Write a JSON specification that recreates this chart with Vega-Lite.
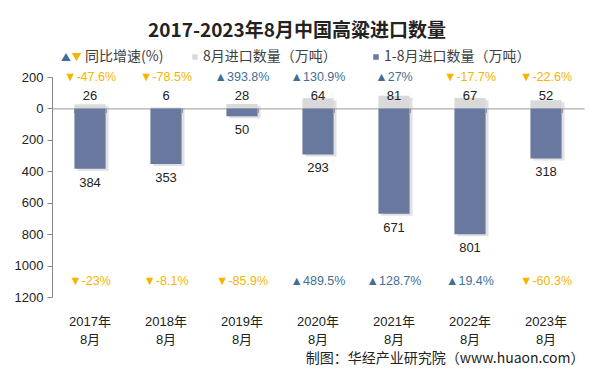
{
  "$schema": "https://vega.github.io/schema/vega-lite/v6.json",
  "width": 532,
  "height": 220,
  "autosize": {"type": "none"},
  "padding": {"left": 52, "top": 77, "right": 10, "bottom": 76},
  "background": "white",
  "config": {
    "view": {"stroke": null},
    "font": "Liberation Sans, Noto Sans CJK SC",
    "text": {"font": "Liberation Sans, Noto Sans CJK SC", "fontSize": 13},
    "legend": {"padding": 0}
  },
  "title": {
    "text": "2017-2023年8月中国高粱进口数量",
    "font": "Noto Sans CJK SC",
    "fontSize": 19,
    "fontWeight": "bold",
    "color": "#222222",
    "anchor": "middle",
    "frame": "group",
    "dx": -21,
    "offset": 9
  },
  "data": {
    "values": [
      {"year": "2017", "m": 26, "m_lab": "▼-47.6%", "m_dir": "down", "c": 384, "c_lab": "▼-23%", "c_dir": "down"},
      {"year": "2018", "m": 6, "m_lab": "▼-78.5%", "m_dir": "down", "c": 353, "c_lab": "▼-8.1%", "c_dir": "down"},
      {"year": "2019", "m": 28, "m_lab": "▲393.8%", "m_dir": "up", "c": 50, "c_lab": "▼-85.9%", "c_dir": "down"},
      {"year": "2020", "m": 64, "m_lab": "▲130.9%", "m_dir": "up", "c": 293, "c_lab": "▲489.5%", "c_dir": "up"},
      {"year": "2021", "m": 81, "m_lab": "▲27%", "m_dir": "up", "c": 671, "c_lab": "▲128.7%", "c_dir": "up"},
      {"year": "2022", "m": 67, "m_lab": "▼-17.7%", "m_dir": "down", "c": 801, "c_lab": "▲19.4%", "c_dir": "up"},
      {"year": "2023", "m": 52, "m_lab": "▼-22.6%", "m_dir": "down", "c": 318, "c_lab": "▼-60.3%", "c_dir": "down"}
    ]
  },
  "encoding": {
    "x": {
      "field": "year",
      "type": "nominal",
      "sort": null,
      "scale": {"paddingInner": 0.59, "paddingOuter": 0.295}
    }
  },
  "layer": [
    {
      "mark": {"type": "bar", "color": "#9A9A9A", "opacity": 0.3, "xOffset": 3, "yOffset": 2},
      "encoding": {
        "x": {"field": "year", "type": "nominal", "sort": null, "axis": null},
        "y": {"field": "m", "type": "quantitative", "scale": {"domain": [-1200, 200], "nice": false}, "axis": null},
        "y2": {"datum": 0}
      }
    },
    {
      "mark": {"type": "bar"},
      "encoding": {
        "x": {
          "field": "year", "type": "nominal", "sort": null,
          "axis": {
            "orient": "bottom",
            "domain": false,
            "ticks": false,
            "labelAngle": 0,
            "labelPadding": 18,
            "labelFontSize": 13,
            "labelColor": "#222222",
            "labelLineHeight": 18,
            "labelFont": "Liberation Sans, Noto Sans CJK SC",
            "labelExpr": "[datum.label + '年', '8月']",
            "title": "制图：华经产业研究院（www.huaon.com）",
            "titleAnchor": "end",
            "titleFont": "Noto Sans CJK SC",
            "titleFontSize": 14,
            "titleFontWeight": "normal",
            "titleColor": "#222222",
            "titlePadding": 5
          }
        },
        "y": {
          "field": "m", "type": "quantitative",
          "scale": {"domain": [-1200, 200], "nice": false},
          "axis": {
            "values": [200, 0, -200, -400, -600, -800, -1000, -1200],
            "labelExpr": "abs(datum.value)",
            "grid": false,
            "title": null,
            "domainColor": "#888888",
            "tickColor": "#888888",
            "tickSize": 5,
            "labelFontSize": 13,
            "labelColor": "#222222",
            "labelPadding": 4
          }
        },
        "y2": {"datum": 0},
        "fill": {
          "datum": "8月进口数量（万吨）",
          "type": "nominal",
          "scale": {
            "domain": ["8月进口数量（万吨）", "1-8月进口数量（万吨）"],
            "range": ["#D9D9D9", "#68789F"]
          },
          "legend": {
            "orient": "none",
            "legendX": 136,
            "legendY": -27,
            "direction": "horizontal",
            "title": null,
            "labelFontSize": 14,
            "labelFont": "Noto Sans CJK SC",
            "labelColor": "#404040",
            "symbolType": "square",
            "symbolSize": 30,
            "symbolStrokeWidth": 0,
            "labelOffset": 1,
            "columnPadding": 32
          }
        }
      }
    },
    {
      "mark": {"type": "bar", "color": "#9A9A9A", "opacity": 0.3, "xOffset": 3, "yOffset": 2},
      "encoding": {
        "x": {"field": "year", "type": "nominal", "sort": null, "axis": null},
        "y": {"field": "c", "type": "quantitative", "scale": {"domain": [-200, 1200], "nice": false, "reverse": true}, "axis": null},
        "y2": {"datum": 0}
      }
    },
    {
      "mark": {"type": "bar"},
      "encoding": {
        "x": {
          "field": "year", "type": "nominal", "sort": null,
          "axis": {
            "orient": "bottom",
            "offset": -188.6,
            "labels": false,
            "title": null,
            "domainColor": "#999999",
            "tickColor": "#999999",
            "tickSize": 4,
            "tickBand": "extent"
          }
        },
        "y": {
          "field": "c", "type": "quantitative",
          "scale": {"domain": [-200, 1200], "nice": false, "reverse": true},
          "axis": null
        },
        "y2": {"datum": 0},
        "fill": {"datum": "1-8月进口数量（万吨）", "type": "nominal"}
      }
    },
    {
      "mark": {"type": "text", "baseline": "middle", "color": "#222222", "fontSize": 13},
      "encoding": {
        "x": {"field": "year", "type": "nominal", "sort": null, "axis": null},
        "y": {"datum": 82, "type": "quantitative", "scale": {"domain": [-1200, 200], "nice": false}, "axis": null},
        "text": {"field": "m"}
      }
    },
    {
      "mark": {"type": "text", "baseline": "middle", "dy": 14, "color": "#222222", "fontSize": 13},
      "encoding": {
        "x": {"field": "year", "type": "nominal", "sort": null, "axis": null},
        "y": {"field": "c", "type": "quantitative", "scale": {"domain": [-200, 1200], "nice": false, "reverse": true}, "axis": null},
        "text": {"field": "c"}
      }
    },
    {
      "mark": {"type": "text", "baseline": "middle", "fontSize": 12.5},
      "encoding": {
        "x": {"field": "year", "type": "nominal", "sort": null, "axis": null},
        "y": {"datum": 200, "type": "quantitative", "scale": {"domain": [-1200, 200], "nice": false}, "axis": null},
        "text": {"field": "m_lab"},
        "color": {
          "field": "m_dir",
          "type": "nominal",
          "scale": {"domain": ["up", "down"], "range": ["#3F6E96", "#F5B400"]},
          "legend": {
            "orient": "none",
            "legendX": 9,
            "legendY": -27,
            "direction": "horizontal",
            "title": null,
            "labelFontSize": 14,
            "labelFont": "Noto Sans CJK SC",
            "labelColor": "#404040",
            "symbolSize": 90,
            "symbolStrokeWidth": 0,
            "labelOffset": 1,
            "columnPadding": -11,
            "labelExpr": "datum.value == 'up' ? '' : '同比增速(%)'",
            "encode": {
              "symbols": {
                "update": {
                  "shape": {"signal": "datum.value == 'up' ? 'triangle-up' : 'triangle-down'"},
                  "x": {"signal": "datum.value == 'up' ? 5 : 3.5"}
                }
              },
              "labels": {
                "update": {
                  "dx": {"value": -3}
                }
              }
            }
          }
        }
      }
    },
    {
      "mark": {"type": "text", "baseline": "middle", "fontSize": 12.5},
      "encoding": {
        "x": {"field": "year", "type": "nominal", "sort": null, "axis": null},
        "y": {"datum": -1100, "type": "quantitative", "scale": {"domain": [-1200, 200], "nice": false}, "axis": null},
        "text": {"field": "c_lab"},
        "color": {"field": "c_dir", "type": "nominal"}
      }
    }
  ],
  "resolve": {"scale": {"y": "independent"}, "axis": {"x": "independent"}}
}
